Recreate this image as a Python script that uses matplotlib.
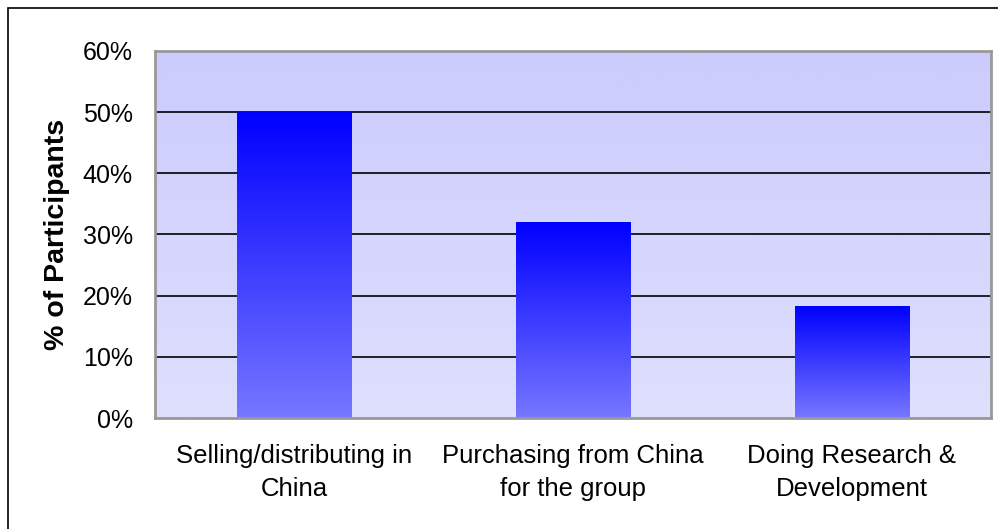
import numpy as np
import matplotlib
matplotlib.use("Agg")
import matplotlib.pyplot as plt
from matplotlib.patches import Rectangle
from matplotlib.colors import LinearSegmentedColormap
from matplotlib.ticker import FuncFormatter

categories = ["Selling/distributing in\nChina", "Purchasing from China\nfor the group", "Doing Research &\nDevelopment"]
values = [0.50, 0.32, 0.183]
yticks = [0, 0.1, 0.2, 0.3, 0.4, 0.5, 0.6]

plt.rcParams['font.family'] = ['Liberation Sans', 'DejaVu Sans']

W, H = 998, 529
fig = plt.figure(figsize=(W/100, H/100), dpi=100)
ax = fig.add_axes([155/W, 1-418/H, (991-155)/W, (418-51)/H])

n = len(categories)
x = np.arange(n)

# background gradient
bg_cmap = LinearSegmentedColormap.from_list("bg", ["#dfdffd", "#cbcbfd"])
grad = np.linspace(0, 1, 256).reshape(-1, 1)
ax.imshow(grad, cmap=bg_cmap, aspect='auto', extent=(-0.5, n-0.5, 0, 0.6),
          origin='lower', zorder=0)

# gridlines
for t in yticks[1:-1]:
    ax.axhline(t, color='black', lw=1.2, zorder=1)

bars = ax.bar(x, values, width=0.41, color='none', zorder=2)
bar_cmap = LinearSegmentedColormap.from_list("bar", ["#7777ff", "#0000ff"])
for b in bars:
    x0, w, h = b.get_x(), b.get_width(), b.get_height()
    ax.imshow(grad, cmap=bar_cmap, aspect='auto',
              extent=(x0, x0+w, 0, h), origin='lower', zorder=2)
ax.set_xlim(-0.5, n-0.5)
ax.set_ylim(0, 0.6)

ax.set_yticks(yticks)
ax.yaxis.set_major_formatter(FuncFormatter(lambda v, p: f"{v*100:.0f}%"))
ax.set_xticks(x)
ax.set_xticklabels(categories, fontsize=18.5, linespacing=1.45)
ax.tick_params(axis='y', labelsize=18, length=0, pad=16)
ax.tick_params(axis='x', length=0, pad=19)
ax.set_ylabel("% of Participants", fontsize=20.5, fontweight='bold', labelpad=9)

for s in ax.spines.values():
    s.set_color('#999999')
    s.set_linewidth(2)
    s.set_zorder(5)

# outer frame
fig.patches.append(Rectangle((8/W, -0.1), 1.2, 1-8/H+0.1, transform=fig.transFigure,
                             fill=False, edgecolor='black', lw=1.2, zorder=10))

fig.savefig("out.png", dpi=100)
